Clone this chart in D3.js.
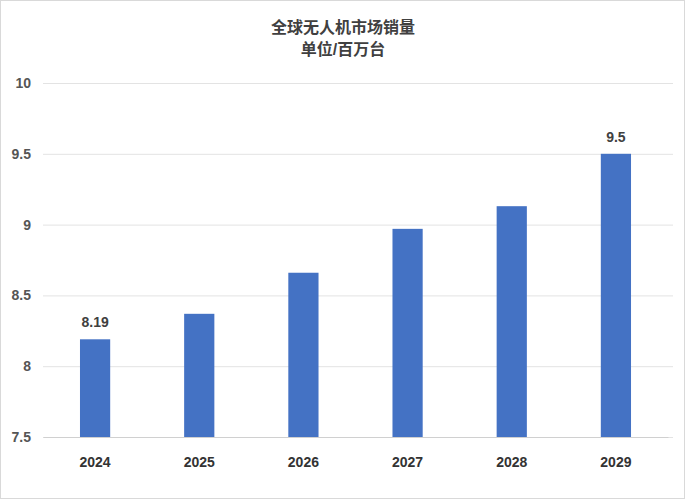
<!DOCTYPE html>
<html><head><meta charset="utf-8">
<script src="https://cdn.jsdelivr.net/npm/d3@7"></script>
<style>body{margin:0;background:#fff}svg{font-family:"Liberation Sans","Noto Sans CJK SC",sans-serif}</style>
</head><body><svg id="c" width="686" height="500"></svg>
<script>
const categories=["2024","2025","2026","2027","2028","2029"];
const values=[8.19,8.37,8.66,8.97,9.13,9.5];
const labelled=[true,false,false,false,false,true];
const yTicks=[7.5,8,8.5,9,9.5,10];
const titleLines=["全球无人机市场销量","单位/百万台"];

const svg=d3.select("#c");
svg.append("rect").attr("x",0.5).attr("y",0.5).attr("width",684).attr("height",498).attr("fill","#fff").attr("stroke","#d9d9d9");
const x=d3.scaleBand().domain(categories).range([43,668]).paddingInner(0.71).paddingOuter(0.355);
const y=d3.scaleLinear().domain([7.5,10]).range([437,83]);
const ax=svg.append("g").attr("transform","translate(43,0)").call(d3.axisLeft(y).tickValues(yTicks).tickSize(-630).tickFormat(d=>d));
ax.select(".domain").remove();
ax.selectAll("line").attr("stroke","#e3e3e3");
ax.selectAll("text").attr("x",-12).attr("font-size",14).attr("font-weight","bold").attr("fill","#555");
const bx=svg.append("g").attr("transform","translate(0,437)").call(d3.axisBottom(x).tickSize(0).tickPadding(20));
bx.select(".domain").attr("stroke","#d0d0d0");
bx.selectAll("text").attr("font-size",14).attr("font-weight","bold").attr("fill","#333");
svg.selectAll("rect.bar").data(values).join("rect").attr("class","bar")
 .attr("x",(d,i)=>x(categories[i])).attr("width",x.bandwidth())
 .attr("y",d=>y(d)).attr("height",d=>437-y(d)).attr("fill","#4472c4");
svg.selectAll("text.lbl").data(values.filter((d,i)=>labelled[i]).map((d,k)=>({d,c:categories[values.indexOf(d)]}))).join("text")
 .attr("x",o=>x(o.c)+x.bandwidth()/2).attr("y",o=>y(o.d)-12).attr("text-anchor","middle")
 .attr("font-size",14).attr("font-weight","bold").attr("fill","#404040").text(o=>o.d);
svg.selectAll("text.t").data(titleLines).join("text").attr("x",343).attr("y",(d,i)=>33+i*22)
 .attr("text-anchor","middle").attr("font-size",16).attr("font-weight","bold").attr("fill","#404040").text(d=>d);
</script></body></html>
